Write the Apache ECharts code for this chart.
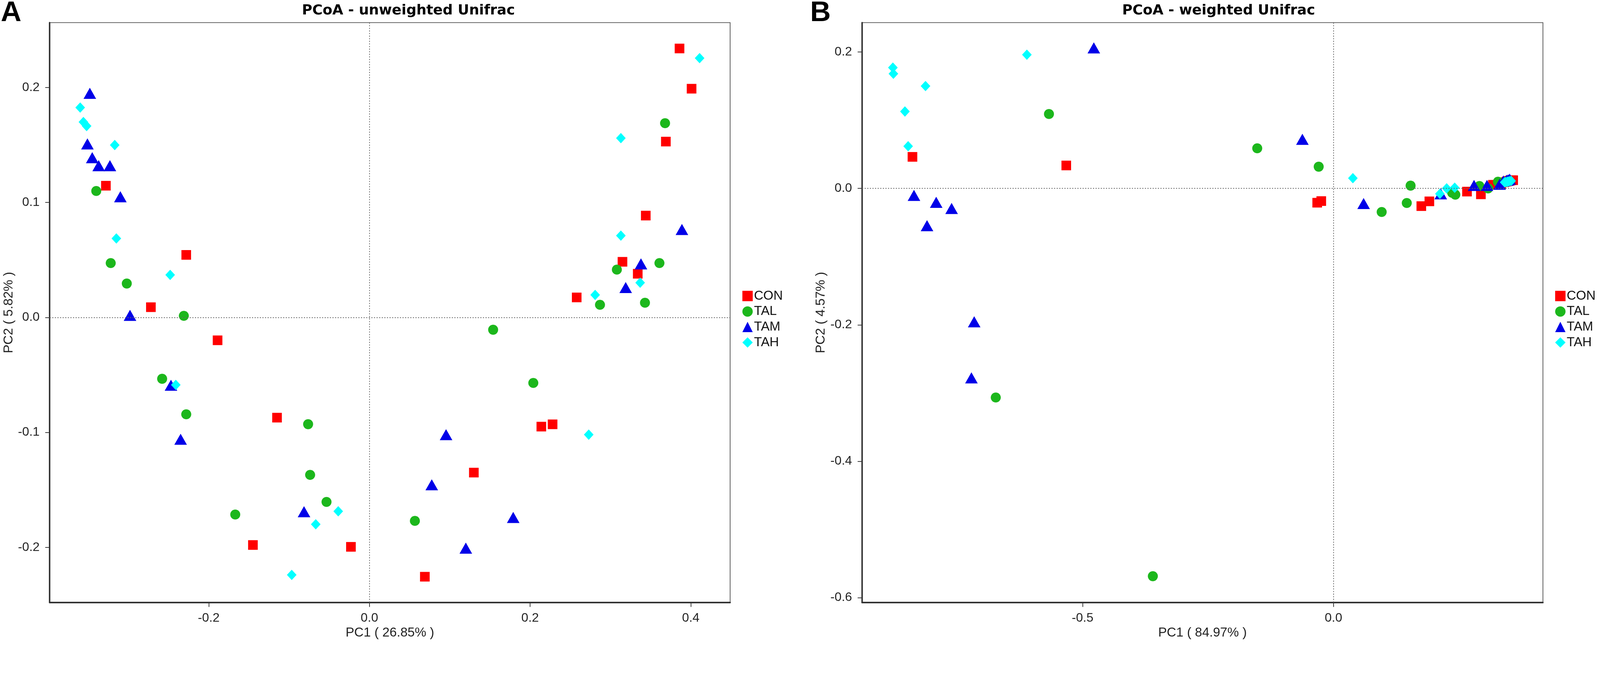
<!DOCTYPE html>
<html>
<head>
<meta charset="utf-8">
<title>PCoA</title>
<script src="https://cdn.jsdelivr.net/npm/echarts@6/dist/echarts.min.js"></script>
<style>
  html, body { margin: 0; padding: 0; background: #fff; overflow: hidden; }
  #chart { width: 100vw; height: 100vh; }
</style>
</head>
<body>
<div id="chart"></div>
<script>
// groups
const groups = ['CON', 'TAL', 'TAM', 'TAH']

// PCoA - unweighted Unifrac  [PC1, PC2]
const unweightedCON = [
  [0.386, 0.234], [0.401, 0.199], [0.369, 0.153], [0.344, 0.0886], [0.315, 0.0484],
  [0.334, 0.038], [0.258, 0.0174], [-0.328, 0.1146], [-0.228, 0.0544], [-0.272, 0.0089],
  [-0.189, -0.0199], [-0.115, -0.0872], [-0.145, -0.198], [-0.023, -0.1996], [0.069, -0.2256],
  [0.130, -0.135], [0.214, -0.095], [0.228, -0.093]
]
const unweightedTAL = [
  [0.368, 0.169], [0.361, 0.0473], [0.308, 0.0416], [0.287, 0.011], [0.343, 0.0128],
  [0.154, -0.0107], [0.204, -0.057], [0.0566, -0.177], [-0.340, 0.110], [-0.322, 0.0473],
  [-0.302, 0.0295], [-0.231, 0.0014], [-0.258, -0.0534], [-0.228, -0.0843], [-0.0763, -0.0929],
  [-0.0738, -0.137], [-0.0534, -0.1605], [-0.167, -0.1715]
]
const unweightedTAM = [
  [-0.348, 0.195], [-0.351, 0.151], [-0.345, 0.139], [-0.337, 0.132], [-0.323, 0.132],
  [-0.310, 0.105], [-0.298, 0.0018], [-0.247, -0.059], [-0.235, -0.106], [-0.0814, -0.169],
  [0.0954, -0.102], [0.0776, -0.1456], [0.179, -0.174], [0.120, -0.2007], [0.389, 0.0765],
  [0.338, 0.0466], [0.319, 0.026]
]
const unweightedTAH = [
  [0.411, 0.2256], [0.313, 0.156], [0.313, 0.0712], [0.337, 0.0302], [0.281, 0.0196],
  [0.273, -0.102], [-0.360, 0.1826], [-0.356, 0.170], [-0.352, 0.1665], [-0.317, 0.150],
  [-0.315, 0.0687], [-0.248, 0.037], [-0.241, -0.0587], [-0.0388, -0.1687], [-0.0668, -0.180],
  [-0.0967, -0.224]
]

// PCoA - weighted Unifrac  [PC1, PC2]
const weightedCON = [
  [-0.839, 0.0462], [-0.5325, 0.0336], [-0.0325, -0.021], [-0.0244, -0.0186], [0.175, -0.026],
  [0.191, -0.019], [0.266, -0.0047], [0.2937, -0.0087], [0.3177, 0.0053], [0.334, 0.0061],
  [0.358, 0.012], [0.345, 0.010], [0.350, 0.011], [0.340, 0.009], [0.355, 0.012],
  [0.330, 0.007], [0.352, 0.0115], [0.347, 0.0105]
]
const weightedTAL = [
  [-0.567, 0.109], [-0.152, 0.0588], [-0.0295, 0.0318], [-0.673, -0.3065], [-0.360, -0.5685],
  [0.1536, 0.004], [0.146, -0.0214], [0.096, -0.0346], [0.2427, -0.0092], [0.2365, -0.0065],
  [0.2907, 0.0034], [0.308, 0.0], [0.3277, 0.0098], [0.335, 0.008], [0.340, 0.009],
  [0.345, 0.010], [0.330, 0.0085], [0.350, 0.011]
]
const weightedTAM = [
  [-0.4776, 0.206], [-0.836, -0.0102], [-0.7917, -0.0204], [-0.761, -0.0294], [-0.810, -0.0546],
  [-0.716, -0.1955], [-0.7215, -0.2777], [-0.062, 0.072], [0.060, -0.0222], [0.2137, -0.008],
  [0.280, 0.0043], [0.3058, 0.0043], [0.3387, 0.0108], [0.351, 0.0136], [0.331, 0.006],
  [0.345, 0.012], [0.348, 0.0125]
]
const weightedTAH = [
  [-0.878, 0.177], [-0.877, 0.168], [-0.813, 0.150], [-0.854, 0.1127], [-0.8476, 0.0618],
  [-0.611, 0.196], [0.0386, 0.015], [0.212, -0.008], [0.2255, 0.0], [0.2415, 0.001],
  [0.341, 0.0089], [0.351, 0.0107], [0.346, 0.0095], [0.348, 0.010], [0.354, 0.011],
  [0.343, 0.0092]
]

// tick labels
const unweightedXTicks = [-0.2, 0.0, 0.2, 0.4]
const unweightedYTicks = [-0.2, -0.1, 0.0, 0.1, 0.2]
const weightedXTicks = [-0.5, 0.0]
const weightedYTicks = [-0.6, -0.4, -0.2, 0.0, 0.2]

const panelTitles = ['PCoA - unweighted Unifrac', 'PCoA - weighted Unifrac']
const xNames = ['PC1 ( 26.85% )', 'PC1 ( 84.97% )']
const yNames = ['PC2 ( 5.82% )', 'PC2 ( 4.57% )']

const colors = { CON: '#ff0000', TAL: '#1cb71c', TAM: '#0000e8', TAH: '#00ffff' }
const symbols = { CON: 'rect', TAL: 'circle', TAM: 'triangle', TAH: 'diamond' }
const sizes = { CON: [26, 26], TAL: [27, 27], TAM: [34, 30], TAH: [26, 28] }

const FONT = "'Liberation Sans', Arial, sans-serif"

// layout is designed on a 4317 x 1730 canvas, scaled to the real viewport
const S = Math.min(window.innerWidth / 4317, window.innerHeight / 1730)
const px = v => v * S

function valueAxis (gridIndex, min, max, ticks, name, isX) {
  return {
    type: 'value',
    gridIndex,
    min,
    max,
    name,
    nameLocation: 'middle',
    nameGap: px(isX ? 57 : 93),
    nameTextStyle: { fontFamily: FONT, fontSize: px(35), color: '#222' },
    axisLine: { show: true, onZero: false, lineStyle: { color: '#333', width: px(4) } },
    axisTick: { show: true, length: px(12), customValues: ticks, lineStyle: { color: '#333', width: px(2) } },
    axisLabel: {
      customValues: ticks,
      formatter: v => v.toFixed(1),
      fontFamily: FONT,
      fontSize: px(34),
      color: '#222',
      margin: px(isX ? 26 : 27)
    },
    splitLine: { show: false }
  }
}

function groupSeries (gridIndex, dataByGroup) {
  return groups.map((g, i) => {
    const s = {
      type: 'scatter',
      name: g,
      xAxisIndex: gridIndex,
      yAxisIndex: gridIndex,
      symbol: symbols[g],
      symbolSize: sizes[g].map(px),
      itemStyle: { color: colors[g], opacity: 1 },
      data: dataByGroup[i],
      animation: false
    }
    if (i === 0) {
      s.markLine = {
        silent: true,
        symbol: ['none', 'none'],
        label: { show: false },
        lineStyle: { color: '#666', width: px(2), type: [px(3), px(4)] },
        data: [{ xAxis: 0 }, { yAxis: 0 }],
        animation: false
      }
    }
    return s
  })
}

function legendAt (left) {
  return {
    orient: 'vertical',
    left: px(left),
    top: px(781),
    padding: 0,
    itemWidth: px(28),
    itemHeight: px(28),
    itemGap: px(7),
    textStyle: { fontFamily: FONT, fontSize: px(35), color: '#111', padding: [0, 0, 0, px(-2)] },
    data: groups
  }
}

function label (x, y, text, fontSize, family, align) {
  return {
    type: 'text',
    x: px(x),
    y: px(y),
    style: {
      text,
      fontFamily: family,
      fontSize: px(fontSize),
      fontWeight: 'bold',
      fill: '#000',
      align,
      verticalAlign: 'middle'
    }
  }
}

const options = {
  backgroundColor: '#fff',
  animation: false,
  grid: [
    { left: px(134), top: px(61), width: px(1836), height: px(1564), show: true, borderColor: '#555', borderWidth: px(2) },
    { left: px(2326), top: px(61), width: px(1837), height: px(1564), show: true, borderColor: '#555', borderWidth: px(2) }
  ],
  xAxis: [
    valueAxis(0, -0.398, 0.449, unweightedXTicks, xNames[0], true),
    valueAxis(1, -0.9394, 0.4173, weightedXTicks, xNames[1], true)
  ],
  yAxis: [
    valueAxis(0, -0.248, 0.2565, unweightedYTicks, yNames[0], false),
    valueAxis(1, -0.607, 0.243, weightedYTicks, yNames[1], false)
  ],
  legend: [legendAt(2003), legendAt(4196)],
  graphic: [
    label(1102, 29, panelTitles[0], 38, "'DejaVu Sans', sans-serif", 'center'),
    label(3288, 29, panelTitles[1], 38, "'DejaVu Sans', sans-serif", 'center'),
    label(2, 36, 'A', 77, FONT, 'left'),
    label(2186, 36, 'B', 77, FONT, 'left')
  ],
  series: [
    ...groupSeries(0, [unweightedCON, unweightedTAL, unweightedTAM, unweightedTAH]),
    ...groupSeries(1, [weightedCON, weightedTAL, weightedTAM, weightedTAH])
  ]
}

const chart = echarts.init(document.getElementById('chart'), null, { renderer: 'canvas' })
chart.setOption(options)
</script>
</body>
</html>
